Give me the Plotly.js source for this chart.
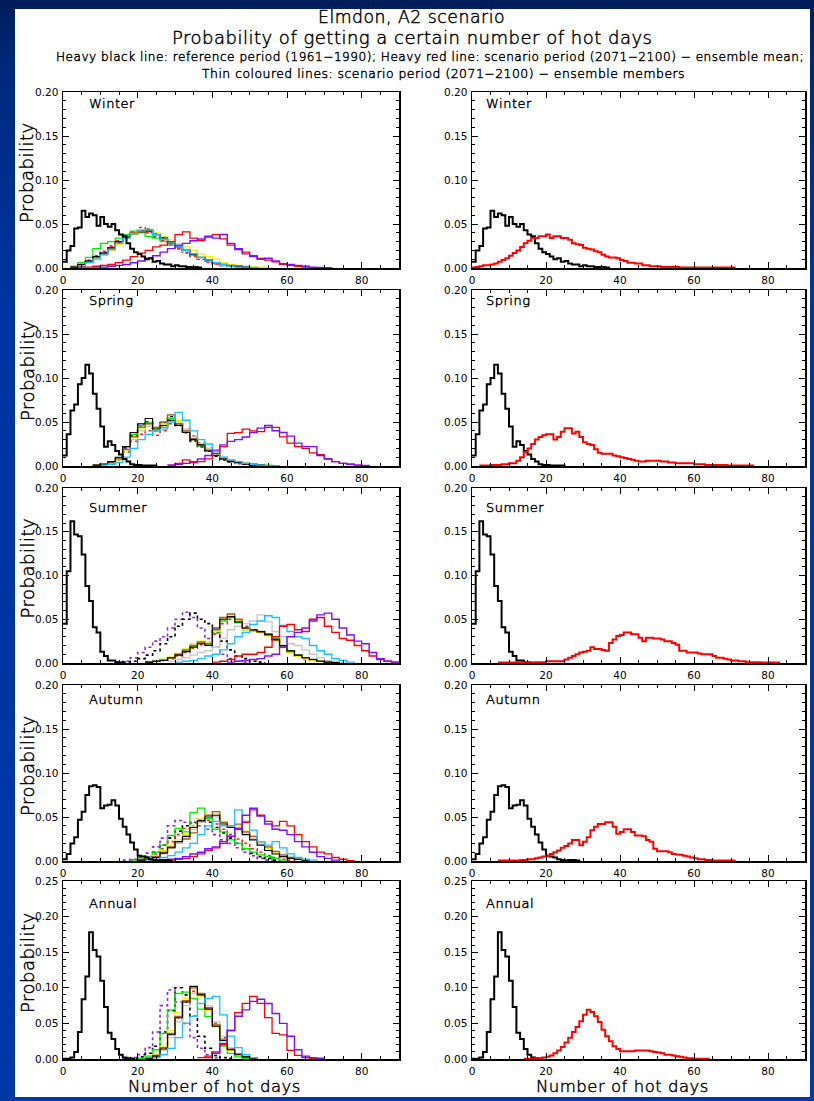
<!DOCTYPE html>
<html>
<head>
<meta charset="utf-8">
<script src="https://cdn.plot.ly/plotly-3.0.1.min.js"></script>
<style>
  html, body { margin:0; padding:0; }
  body { width:814px; height:1101px; position:relative; overflow:hidden;
         background: linear-gradient(180deg, #001c58 0px, #00287a 60px, #0034a0 300px, #0038a8 1101px); }
  #panel { position:absolute; left:15px; top:9px; width:795px; height:1088px; background:#ffffff; }
  #chart { position:absolute; left:0; top:0; width:814px; height:1101px; }
  .annotation-text { letter-spacing: 0.5px; stroke: #000; stroke-width: 0.45px; }
</style>
</head>
<body>
<div id="panel"></div>
<div id="chart"></div>
<script>
// ---------------- DATA ----------------
const seasons = ['Winter', 'Spring', 'Summer', 'Autumn', 'Annual'];
const xTicks = [0, 20, 40, 60, 80];
const yTicksSeason = [0, 0.05, 0.10, 0.15, 0.20];
const yTicksAnnual = [0, 0.05, 0.10, 0.15, 0.20, 0.25];

// reference period (1961-1990), 1-day bins starting at 0
const winterRef = [0.007,0.020,0.025,0.045,0.046,0.065,0.058,0.062,0.060,0.048,0.058,0.050,0.047,0.050,0.043,0.038,0.036,0.028,0.022,0.018,0.016,0.013,0.010,0.011,0.007,0.008,0.005,0.004,0.004,0.002,0.003,0.002,0.002,0.001,0.001,0.001,0.0005,0];
const springRef = [0.012,0.036,0.063,0.070,0.093,0.100,0.115,0.105,0.082,0.065,0.045,0.022,0.028,0.024,0.017,0.013,0.008,0.005,0.002,0.001,0.001,0.0005,0.0005,0.0005,0.0005,0];
const summerRef = [0.045,0.105,0.162,0.147,0.145,0.124,0.088,0.071,0.041,0.035,0.013,0.008,0.003,0.003,0.001,0.0005,0];
const autumnRef = [0.002,0.008,0.020,0.027,0.047,0.056,0.075,0.085,0.086,0.084,0.060,0.063,0.064,0.069,0.063,0.048,0.039,0.030,0.021,0.013,0.006,0.005,0.004,0.002,0.001,0.0005,0.001,0.001,0.0005,0];
const annualRef = [0.0005,0.0005,0.002,0.010,0.038,0.084,0.116,0.178,0.153,0.144,0.110,0.073,0.037,0.028,0.014,0.006,0.002,0.001,0.0005,0];

// scenario period (2071-2100) ensemble mean, 1-day bins
const meanStarts = [0, 2, 7, 7, 14];
const winterMean = [0.0005,0.001,0.002,0.003,0.003,0.004,0.005,0.007,0.009,0.011,
  0.014,0.017,0.020,0.024,0.028,0.031,0.034,0.034,0.036,0.036,
  0.038,0.034,0.036,0.036,0.034,0.034,0.032,0.028,0.027,0.026,
  0.023,0.022,0.021,0.019,0.018,0.015,0.013,0.012,0.012,0.011,
  0.009,0.008,0.006,0.006,0.005,0.005,0.003,0.003,0.002,0.002,
  0.002,0.001,0.001,0.001,0.001,0.001,0.0005,0.0005,0.0005,0.0005,
  0.0005,0.0005,0.0005,0.0005,0.0005,0.0005,0.0005,0.0005,0.0005,0.0005,0.0005,0];
const springMean = [0.0005,0.0005,0.0005,0.001,0.001,0.001,0.002,0.002,
  0.003,0.003,0.006,0.010,0.016,0.020,0.025,0.030,0.033,0.035,
  0.036,0.036,0.030,0.033,0.039,0.043,0.043,0.037,0.039,0.033,
  0.027,0.025,0.024,0.019,0.015,0.014,0.014,0.014,0.012,0.011,
  0.010,0.009,0.008,0.007,0.006,0.005,0.005,0.006,0.006,0.006,
  0.006,0.005,0.005,0.004,0.004,0.003,0.003,0.003,0.003,0.003,
  0.002,0.002,0.002,0.001,0.001,0.001,0.001,0.001,0.001,0.0005,
  0.0005,0.0005,0.0005,0.0005,0.0005,0.0005,0];
const summerMean = [0.0005,0.0005,0.0005,0.0005,0.0005,0.0005,0.0005,0.0005,0.0005,0.0005,
  0.001,0.001,0.001,0.002,0.002,0.002,0.002,0.002,0.004,0.006,
  0.008,0.010,0.012,0.013,0.014,0.018,0.016,0.016,0.015,0.014,
  0.023,0.027,0.031,0.032,0.035,0.035,0.033,0.033,0.029,0.025,
  0.029,0.029,0.028,0.028,0.027,0.025,0.025,0.023,0.021,0.014,
  0.014,0.012,0.012,0.012,0.011,0.010,0.010,0.010,0.008,0.006,
  0.006,0.005,0.004,0.003,0.003,0.002,0.002,0.001,0.001,0.001,
  0.001,0.0005,0.0005,0.0005,0.0005,0.0005,0];
const autumnMean = [0.0005,0.0005,0.0005,0.0005,0.0005,0.0005,
  0.001,0.001,0.002,0.002,0.003,0.004,0.005,0.006,0.008,0.010,
  0.012,0.015,0.017,0.020,0.024,0.024,0.018,0.022,0.027,0.035,
  0.039,0.042,0.042,0.044,0.044,0.039,0.031,0.033,0.036,0.036,
  0.033,0.029,0.029,0.028,0.024,0.022,0.014,0.011,0.011,0.011,
  0.010,0.008,0.0075,0.007,0.006,0.005,0.004,0.003,0.002,0.002,
  0.001,0.001,0.0005,0.0005,0.0005,0.0005,0.0005,0.0005,0];
const annualMean = [0.0005,0.0005,0.0005,0.001,0.001,0.002,0.003,0.005,0.008,0.012,
  0.017,0.023,0.030,0.038,0.045,0.053,0.062,0.069,0.066,0.060,
  0.052,0.041,0.032,0.025,0.018,0.014,0.011,0.011,0.011,0.011,
  0.012,0.012,0.012,0.012,0.011,0.010,0.009,0.008,0.006,0.006,
  0.005,0.004,0.003,0.002,0.001,0.001,0.0005,0.0005,0.0005,0.0005,0];

// ensemble members, 2-day bins
// order: green, yellow, brown, black, grey, cyan, red, purple, purple dotted, black dotted, red dotted
const winterStarts = [2, 2, 2, 2, 4, 4, 4, 8, 2, 2, 2];
const winterMembers = [
  [0.002,0.006,0.012,0.022,0.028,0.030,0.034,0.038,0.042,0.040,0.036,0.034,0.030,0.026,0.025,0.020,0.016,0.012,0.008,0.006,0.004,0.003,0.002,0.001,0.001,0.0005,0],
  [0.001,0.003,0.007,0.011,0.015,0.020,0.027,0.033,0.038,0.040,0.043,0.040,0.036,0.032,0.028,0.024,0.020,0.016,0.013,0.010,0.006,0.004,0.003,0.002,0.001,0.001,0.0005,0],
  [0.001,0.004,0.008,0.012,0.016,0.022,0.030,0.036,0.040,0.042,0.041,0.038,0.033,0.028,0.024,0.020,0.016,0.012,0.009,0.006,0.004,0.003,0.002,0.001,0.0005,0],
  [0.001,0.004,0.008,0.013,0.017,0.023,0.030,0.035,0.039,0.041,0.042,0.038,0.034,0.029,0.025,0.020,0.015,0.012,0.009,0.006,0.004,0.002,0.002,0.001,0.0005,0],
  [0.003,0.007,0.011,0.016,0.022,0.028,0.034,0.040,0.044,0.042,0.037,0.033,0.028,0.024,0.019,0.015,0.011,0.008,0.005,0.003,0.002,0.001,0.001,0.0005,0],
  [0.002,0.006,0.010,0.015,0.021,0.028,0.034,0.039,0.042,0.044,0.038,0.033,0.029,0.025,0.020,0.016,0.012,0.009,0.006,0.004,0.002,0.001,0.001,0.0005,0],
  [0.001,0.001,0.002,0.003,0.004,0.006,0.009,0.013,0.017,0.020,0.024,0.026,0.030,0.038,0.041,0.034,0.031,0.035,0.038,0.033,0.026,0.021,0.018,0.014,0.011,0.009,0.007,0.004,0.003,0.002,0.001,0.0005,0.0005,0.0005,0],
  [0.001,0.001,0.002,0.003,0.004,0.006,0.008,0.011,0.014,0.018,0.022,0.026,0.028,0.031,0.033,0.036,0.034,0.038,0.028,0.022,0.016,0.013,0.010,0.011,0.008,0.005,0.004,0.003,0.002,0.001,0.0005,0],
  [0.001,0.004,0.009,0.014,0.019,0.025,0.031,0.036,0.041,0.043,0.040,0.036,0.031,0.027,0.022,0.018,0.014,0.010,0.007,0.005,0.003,0.002,0.001,0.0005,0],
  [0.001,0.003,0.007,0.012,0.017,0.023,0.029,0.035,0.040,0.043,0.044,0.039,0.034,0.029,0.024,0.019,0.015,0.011,0.008,0.005,0.003,0.002,0.001,0.0005,0],
  [0.001,0.004,0.008,0.012,0.018,0.024,0.031,0.036,0.041,0.046,0.040,0.035,0.031,0.026,0.022,0.017,0.013,0.010,0.007,0.004,0.003,0.002,0.001,0.0005,0]
];
const springStarts = [8, 8, 8, 8, 8, 10, 28, 28, 8, 8, 8];
const springMembers = [
  [0.001,0.002,0.004,0.009,0.022,0.036,0.046,0.049,0.040,0.044,0.054,0.048,0.040,0.030,0.023,0.018,0.012,0.008,0.006,0.004,0.003,0.002,0.001,0.001,0.0005,0],
  [0.001,0.002,0.003,0.007,0.018,0.032,0.042,0.046,0.043,0.047,0.058,0.052,0.041,0.031,0.024,0.019,0.013,0.009,0.006,0.004,0.003,0.002,0.001,0.0005,0],
  [0.001,0.002,0.004,0.008,0.019,0.033,0.044,0.048,0.044,0.050,0.058,0.048,0.040,0.031,0.024,0.018,0.012,0.008,0.006,0.004,0.003,0.002,0.001,0.0005,0],
  [0.001,0.002,0.005,0.010,0.022,0.038,0.048,0.054,0.042,0.046,0.052,0.046,0.038,0.030,0.024,0.017,0.012,0.008,0.005,0.004,0.002,0.001,0.001,0.0005,0],
  [0.001,0.002,0.004,0.008,0.018,0.030,0.040,0.045,0.044,0.048,0.055,0.050,0.042,0.033,0.025,0.020,0.014,0.010,0.007,0.005,0.003,0.002,0.001,0.0005,0],
  [0.001,0.002,0.004,0.010,0.020,0.030,0.036,0.040,0.042,0.050,0.061,0.052,0.040,0.030,0.025,0.016,0.010,0.007,0.005,0.003,0.002,0.001,0.0005,0],
  [0.001,0.003,0.007,0.004,0.005,0.008,0.014,0.022,0.037,0.038,0.042,0.040,0.039,0.044,0.044,0.033,0.026,0.022,0.020,0.015,0.013,0.008,0.005,0.003,0.002,0.001,0.0005,0],
  [0.001,0.002,0.003,0.005,0.008,0.012,0.018,0.024,0.028,0.030,0.033,0.038,0.043,0.046,0.040,0.038,0.034,0.026,0.022,0.022,0.012,0.008,0.005,0.003,0.002,0.001,0.0005,0],
  [0.001,0.002,0.004,0.008,0.020,0.036,0.047,0.046,0.040,0.046,0.052,0.046,0.038,0.028,0.022,0.017,0.012,0.008,0.005,0.003,0.002,0.001,0.0005,0],
  [0.001,0.002,0.004,0.009,0.021,0.034,0.044,0.050,0.043,0.049,0.056,0.047,0.038,0.029,0.022,0.017,0.011,0.007,0.005,0.003,0.002,0.001,0.0005,0],
  [0.001,0.002,0.004,0.007,0.016,0.028,0.036,0.040,0.035,0.040,0.048,0.046,0.042,0.034,0.026,0.020,0.014,0.009,0.006,0.004,0.002,0.001,0.0005,0]
];
const summerStarts = [22, 22, 22, 22, 28, 30, 40, 44, 14, 16, 22];
const summerMembers = [
  [0.001,0.002,0.004,0.006,0.010,0.014,0.019,0.023,0.021,0.034,0.048,0.052,0.046,0.038,0.037,0.036,0.033,0.028,0.020,0.014,0.009,0.006,0.004,0.002,0.001,0.0005,0],
  [0.001,0.002,0.004,0.007,0.011,0.016,0.022,0.025,0.024,0.036,0.050,0.055,0.048,0.038,0.036,0.035,0.031,0.025,0.018,0.012,0.008,0.005,0.003,0.002,0.001,0.0005,0],
  [0.001,0.002,0.003,0.006,0.010,0.015,0.020,0.024,0.022,0.038,0.052,0.056,0.050,0.040,0.037,0.035,0.032,0.026,0.019,0.013,0.009,0.006,0.004,0.002,0.001,0.0005,0],
  [0.001,0.002,0.003,0.006,0.009,0.013,0.018,0.022,0.020,0.040,0.050,0.053,0.047,0.040,0.038,0.036,0.033,0.027,0.020,0.014,0.009,0.006,0.004,0.002,0.001,0.0005,0],
  [0.002,0.004,0.006,0.009,0.012,0.014,0.018,0.028,0.038,0.042,0.045,0.048,0.055,0.047,0.036,0.030,0.022,0.020,0.015,0.010,0.006,0.003,0.002,0.001,0],
  [0.001,0.002,0.003,0.005,0.008,0.010,0.015,0.022,0.030,0.035,0.044,0.048,0.054,0.052,0.043,0.036,0.030,0.028,0.020,0.014,0.010,0.005,0.003,0.001,0],
  [0.001,0.002,0.004,0.008,0.010,0.010,0.012,0.018,0.030,0.042,0.044,0.038,0.036,0.050,0.052,0.042,0.035,0.028,0.026,0.020,0.014,0.008,0.004,0.002,0.001,0],
  [0.001,0.002,0.003,0.004,0.005,0.008,0.010,0.018,0.030,0.035,0.040,0.048,0.055,0.057,0.050,0.040,0.032,0.025,0.022,0.012,0.005,0.002,0.001,0],
  [0.001,0.002,0.006,0.012,0.018,0.025,0.030,0.040,0.050,0.058,0.052,0.040,0.028,0.018,0.010,0.005,0.002,0.001,0],
  [0.001,0.002,0.005,0.009,0.014,0.022,0.030,0.042,0.050,0.057,0.050,0.045,0.035,0.025,0.015,0.008,0.005,0.002,0.001,0],
  [0.001,0.002,0.003,0.005,0.008,0.012,0.017,0.021,0.024,0.033,0.045,0.050,0.048,0.042,0.038,0.036,0.032,0.026,0.019,0.013,0.008,0.005,0.003,0.002,0.001,0.0005,0]
];
const autumnStarts = [18, 20, 20, 20, 20, 22, 28, 26, 16, 18, 18];
const autumnMembers = [
  [0.001,0.002,0.004,0.010,0.018,0.029,0.037,0.033,0.055,0.060,0.048,0.036,0.033,0.024,0.020,0.014,0.010,0.007,0.005,0.003,0.001,0],
  [0.001,0.003,0.006,0.012,0.018,0.024,0.030,0.040,0.048,0.052,0.054,0.045,0.040,0.040,0.034,0.028,0.020,0.014,0.009,0.006,0.004,0.002,0.001,0],
  [0.001,0.002,0.005,0.010,0.016,0.022,0.025,0.032,0.045,0.052,0.056,0.044,0.040,0.042,0.033,0.028,0.022,0.016,0.011,0.007,0.004,0.002,0.001,0],
  [0.001,0.002,0.004,0.009,0.015,0.022,0.028,0.038,0.046,0.050,0.052,0.042,0.038,0.036,0.030,0.024,0.018,0.012,0.008,0.005,0.003,0.002,0.001,0],
  [0.001,0.002,0.004,0.008,0.014,0.020,0.026,0.036,0.044,0.048,0.050,0.040,0.038,0.038,0.032,0.026,0.020,0.015,0.010,0.006,0.004,0.002,0.001,0],
  [0.001,0.002,0.004,0.006,0.010,0.015,0.020,0.030,0.040,0.045,0.040,0.040,0.058,0.045,0.035,0.022,0.018,0.022,0.015,0.008,0.004,0.002,0.001,0],
  [0.001,0.002,0.003,0.005,0.008,0.012,0.015,0.020,0.028,0.036,0.044,0.058,0.052,0.045,0.040,0.045,0.040,0.030,0.022,0.016,0.010,0.008,0.004,0.002,0.0005,0],
  [0.001,0.002,0.003,0.005,0.008,0.010,0.014,0.016,0.022,0.028,0.037,0.052,0.060,0.051,0.042,0.036,0.035,0.030,0.022,0.016,0.010,0.005,0.003,0.001,0],
  [0.001,0.002,0.004,0.009,0.016,0.026,0.040,0.046,0.044,0.040,0.040,0.036,0.030,0.024,0.020,0.015,0.010,0.006,0.003,0.001,0],
  [0.001,0.002,0.005,0.010,0.018,0.026,0.034,0.040,0.044,0.046,0.044,0.038,0.032,0.026,0.020,0.014,0.009,0.005,0.003,0.001,0],
  [0.001,0.002,0.004,0.008,0.014,0.022,0.030,0.037,0.043,0.048,0.046,0.042,0.036,0.030,0.025,0.020,0.014,0.010,0.006,0.004,0.002,0.001,0]
];
const annualStarts = [20, 22, 22, 22, 22, 24, 36, 38, 16, 18, 22];
const annualMembers = [
  [0.001,0.004,0.013,0.036,0.069,0.092,0.094,0.085,0.070,0.060,0.046,0.018,0.008,0.003,0.001,0],
  [0.002,0.006,0.018,0.040,0.065,0.085,0.098,0.088,0.068,0.045,0.025,0.012,0.006,0.003,0.001,0],
  [0.001,0.005,0.016,0.036,0.060,0.082,0.100,0.092,0.072,0.048,0.028,0.014,0.007,0.003,0.001,0],
  [0.001,0.004,0.014,0.034,0.058,0.080,0.102,0.090,0.070,0.046,0.026,0.013,0.006,0.003,0.001,0],
  [0.001,0.004,0.012,0.030,0.052,0.075,0.092,0.090,0.075,0.052,0.032,0.016,0.008,0.003,0.001,0],
  [0.002,0.006,0.015,0.030,0.050,0.060,0.078,0.085,0.088,0.062,0.032,0.016,0.006,0.002,0],
  [0.002,0.004,0.010,0.020,0.040,0.065,0.078,0.088,0.078,0.058,0.036,0.034,0.012,0.005,0.002,0.001,0],
  [0.002,0.008,0.022,0.040,0.060,0.069,0.081,0.084,0.078,0.064,0.050,0.032,0.013,0.004,0.002,0.001,0],
  [0.001,0.002,0.006,0.016,0.038,0.075,0.097,0.080,0.050,0.030,0.015,0.006,0.002,0],
  [0.001,0.003,0.008,0.018,0.038,0.068,0.100,0.090,0.060,0.032,0.015,0.005,0.002,0.001,0],
  [0.001,0.005,0.015,0.035,0.058,0.080,0.095,0.090,0.072,0.050,0.030,0.015,0.007,0.003,0.001,0]
];

// ---------------- STYLE / LAYOUT ----------------
const refs = [winterRef, springRef, summerRef, autumnRef, annualRef];
const means = [winterMean, springMean, summerMean, autumnMean, annualMean];
const membersAll = [winterMembers, springMembers, summerMembers, autumnMembers, annualMembers];
const startsAll = [winterStarts, springStarts, summerStarts, autumnStarts, annualStarts];

const memberLines = [
  {color:'#00ee00', width:1.3, dash:'solid'},
  {color:'#f2f200', width:1.3, dash:'solid'},
  {color:'#a8582a', width:1.3, dash:'solid'},
  {color:'#000000', width:1.1, dash:'solid'},
  {color:'#c8c8c8', width:1.3, dash:'solid'},
  {color:'#18c0ff', width:1.3, dash:'solid'},
  {color:'#ff0000', width:1.3, dash:'solid'},
  {color:'#7a10ff', width:1.4, dash:'solid'},
  {color:'#8a2be2', width:1.6, dash:'dot'},
  {color:'#000000', width:1.6, dash:'dot'},
  {color:'#ff2020', width:1.6, dash:'dot'}
];
const drawOrder = [8, 9, 10, 4, 0, 1, 2, 3, 5, 6, 7];

const W = 814, H = 1101;
const fx = p => p / W;
const fy = p => 1 - p / H;
const colPx = [[63, 399], [472, 805]];
const rowPx = [[92, 268], [290, 466], [488, 663], [685, 861], [881, 1059]];
const labelDy = [12, 11, 19, 14, 22];

const FONT = 'DejaVu Sans, Liberation Sans, sans-serif';
const traces = [];
const layout = {
  width: W, height: H,
  margin: {l:0, r:0, t:0, b:0},
  paper_bgcolor: 'rgba(0,0,0,0)',
  plot_bgcolor: '#ffffff',
  showlegend: false,
  font: {family: FONT, color: '#000'},
  annotations: []
};

function axName(k, a) { return a + (k === 1 ? '' : k); }

function stepTrace(start, bin, vals, k, line) {
  return {
    type: 'scatter', mode: 'lines',
    x: vals.map((_, i) => start + i * bin), y: vals,
    xaxis: axName(k, 'x'), yaxis: axName(k, 'y'),
    line: Object.assign({shape: 'hv'}, line),
    hoverinfo: 'skip', showlegend: false
  };
}

const txt = (size) => ({family: FONT, size: size, color: '#000', weight: 200});

for (let s = 0; s < 5; s++) {
  for (let c = 0; c < 2; c++) {
    const k = s * 2 + c + 1;
    const yMax = s === 4 ? 0.25 : 0.20;
    layout[(k === 1 ? 'xaxis' : 'xaxis' + k)] = {
      domain: [fx(colPx[c][0]), fx(colPx[c][1])],
      anchor: axName(k, 'y'),
      range: [0, 90], tickvals: xTicks, ticktext: xTicks.map(String),
      ticks: 'inside', ticklen: 6, tickwidth: 1, tickcolor: '#000',
      mirror: 'allticks', showline: true, linecolor: '#000', linewidth: 1.5,
      showgrid: false, zeroline: false, fixedrange: true,
      tickfont: {family: FONT, size: 10.5, color: '#000'},
      ticklabelstandoff: 2,
      minor: {ticks: 'inside', dtick: 5, tick0: 0, ticklen: 3, tickwidth: 1, tickcolor: '#000', showgrid: false}
    };
    const yt = s === 4 ? yTicksAnnual : yTicksSeason;
    layout[(k === 1 ? 'yaxis' : 'yaxis' + k)] = {
      domain: [fy(rowPx[s][1]), fy(rowPx[s][0])],
      anchor: axName(k, 'x'),
      range: [0, yMax], tickvals: yt, ticktext: yt.map(v => v.toFixed(2)),
      ticks: 'inside', ticklen: 6, tickwidth: 1, tickcolor: '#000',
      mirror: 'allticks', showline: true, linecolor: '#000', linewidth: 1.5,
      showgrid: false, zeroline: false, fixedrange: true,
      tickfont: {family: FONT, size: 10.5, color: '#000'},
      ticklabelstandoff: 1,
      minor: {ticks: 'inside', dtick: 0.01, tick0: 0, ticklen: 3, tickwidth: 1, tickcolor: '#000', showgrid: false}
    };

    if (c === 0) {
      const mem = membersAll[s], st = startsAll[s];
      drawOrder.forEach(m => traces.push(stepTrace(st[m], 2, mem[m], k, memberLines[m])));
      traces.push(stepTrace(0, 1, refs[s], k, {color: '#000', width: 2}));
    } else {
      traces.push(stepTrace(0, 1, refs[s], k, {color: '#000', width: 2}));
      traces.push(stepTrace(meanStarts[s], 1, means[s], k, {color: '#ff0000', width: 2}));
    }

    // season label
    layout.annotations.push({
      xref: 'paper', yref: 'paper', x: fx(colPx[c][0] + (c === 0 ? 24 : 12)), y: fy(rowPx[s][0] + labelDy[s]),
      xanchor: 'left', yanchor: 'middle', showarrow: false, text: seasons[s],
      font: txt(13)
    });
  }
  // Probability label (left column)
  layout.annotations.push({
    xref: 'paper', yref: 'paper', x: fx(27), y: fy((rowPx[s][0] + rowPx[s][1]) / 2 - 8),
    xanchor: 'center', yanchor: 'middle', showarrow: false, textangle: -90, text: 'Probability',
    font: txt(18)
  });
}

// x-axis titles
[[214], [622]].forEach(([cx]) => layout.annotations.push({
  xref: 'paper', yref: 'paper', x: fx(cx), y: fy(1086), xanchor: 'center', yanchor: 'middle',
  showarrow: false, text: 'Number of hot days', font: txt(16.5)
}));

// header
const header = [
  ['Elmdon, A2 scenario', 411, 17, 17.3],
  ['Probability of getting a certain number of hot days', 412, 38, 18],
  ['Heavy black line: reference period (1961\u22121990); Heavy red line: scenario period (2071\u22122100) \u2212 ensemble mean;', 430, 57, 12.1],
  ['Thin coloured lines: scenario period (2071\u22122100) \u2212 ensemble members', 444, 74, 12.4]
];
header.forEach(([t, cx, cy, sz]) => layout.annotations.push({
  xref: 'paper', yref: 'paper', x: fx(cx), y: fy(cy), xanchor: 'center', yanchor: 'middle',
  showarrow: false, text: t, font: txt(sz)
}));

Plotly.newPlot('chart', traces, layout, {staticPlot: true, displayModeBar: false});
</script>
</body>
</html>
